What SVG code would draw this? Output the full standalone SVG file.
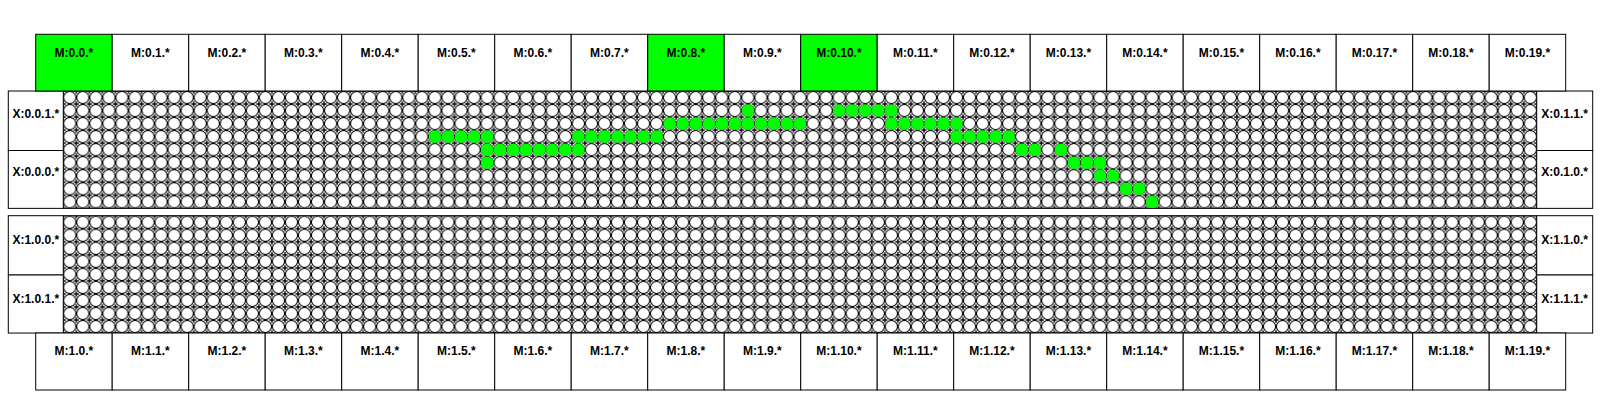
<svg xmlns="http://www.w3.org/2000/svg" width="1600" height="400" viewBox="0 0 1600 400">
<style>
.box{fill:#fff;stroke:#000;stroke-width:1}
.on{fill:#00ff00}
.lbl{font-family:"Liberation Sans",Arial,Helvetica,sans-serif;font-size:12px;font-weight:bold;text-anchor:middle;fill:#000}
.dot{fill:#00ff00;stroke:none}
.edge{fill:none;stroke:#000;stroke-width:1}
</style>
<defs>
<pattern id="cells" patternUnits="userSpaceOnUse" x="0" y="0" width="13.04" height="13.04">
<rect width="13.04" height="13.04" fill="#fff"/>
<path d="M0 0H2.5M0 0V2.5M13.04 0H10.54M13.04 0V2.5M0 13.04H2.5M0 13.04V10.54M13.04 13.04H10.54M13.04 13.04V10.54" stroke="#000" stroke-width="1.4" fill="none"/>
<circle cx="6.52" cy="6.52" r="6.1" fill="#fff" stroke="#000" stroke-width="1"/>
</pattern>
</defs>
<rect width="1600" height="400" fill="#fff"/>

<g id="block0">
<g id="grid0" transform="translate(63.3,91)">
<rect width="1473.4" height="117.36" fill="url(#cells)"/>
<rect class="edge" width="1473.4" height="117.36"/>
</g>
<g id="trace0">
<circle class="dot" cx="747.90" cy="110.56" r="6.3"/>
<circle class="dot" cx="839.18" cy="110.56" r="6.3"/><circle class="dot" cx="852.22" cy="110.56" r="6.3"/><circle class="dot" cx="865.26" cy="110.56" r="6.3"/><circle class="dot" cx="878.30" cy="110.56" r="6.3"/><circle class="dot" cx="891.34" cy="110.56" r="6.3"/>
<circle class="dot" cx="669.66" cy="123.60" r="6.3"/><circle class="dot" cx="682.70" cy="123.60" r="6.3"/><circle class="dot" cx="695.74" cy="123.60" r="6.3"/><circle class="dot" cx="708.78" cy="123.60" r="6.3"/><circle class="dot" cx="721.82" cy="123.60" r="6.3"/><circle class="dot" cx="734.86" cy="123.60" r="6.3"/><circle class="dot" cx="747.90" cy="123.60" r="6.3"/><circle class="dot" cx="760.94" cy="123.60" r="6.3"/><circle class="dot" cx="773.98" cy="123.60" r="6.3"/><circle class="dot" cx="787.02" cy="123.60" r="6.3"/><circle class="dot" cx="800.06" cy="123.60" r="6.3"/>
<circle class="dot" cx="891.34" cy="123.60" r="6.3"/><circle class="dot" cx="904.38" cy="123.60" r="6.3"/><circle class="dot" cx="917.42" cy="123.60" r="6.3"/><circle class="dot" cx="930.46" cy="123.60" r="6.3"/><circle class="dot" cx="943.50" cy="123.60" r="6.3"/><circle class="dot" cx="956.54" cy="123.60" r="6.3"/>
<circle class="dot" cx="434.94" cy="136.64" r="6.3"/><circle class="dot" cx="447.98" cy="136.64" r="6.3"/><circle class="dot" cx="461.02" cy="136.64" r="6.3"/><circle class="dot" cx="474.06" cy="136.64" r="6.3"/><circle class="dot" cx="487.10" cy="136.64" r="6.3"/>
<circle class="dot" cx="578.38" cy="136.64" r="6.3"/><circle class="dot" cx="591.42" cy="136.64" r="6.3"/><circle class="dot" cx="604.46" cy="136.64" r="6.3"/><circle class="dot" cx="617.50" cy="136.64" r="6.3"/><circle class="dot" cx="630.54" cy="136.64" r="6.3"/><circle class="dot" cx="643.58" cy="136.64" r="6.3"/><circle class="dot" cx="656.62" cy="136.64" r="6.3"/>
<circle class="dot" cx="956.54" cy="136.64" r="6.3"/><circle class="dot" cx="969.58" cy="136.64" r="6.3"/><circle class="dot" cx="982.62" cy="136.64" r="6.3"/><circle class="dot" cx="995.66" cy="136.64" r="6.3"/><circle class="dot" cx="1008.70" cy="136.64" r="6.3"/>
<circle class="dot" cx="487.10" cy="149.68" r="6.3"/><circle class="dot" cx="500.14" cy="149.68" r="6.3"/><circle class="dot" cx="513.18" cy="149.68" r="6.3"/><circle class="dot" cx="526.22" cy="149.68" r="6.3"/><circle class="dot" cx="539.26" cy="149.68" r="6.3"/><circle class="dot" cx="552.30" cy="149.68" r="6.3"/><circle class="dot" cx="565.34" cy="149.68" r="6.3"/><circle class="dot" cx="578.38" cy="149.68" r="6.3"/>
<circle class="dot" cx="1021.74" cy="149.68" r="6.3"/><circle class="dot" cx="1034.78" cy="149.68" r="6.3"/><circle class="dot" cx="1060.86" cy="149.68" r="6.3"/>
<circle class="dot" cx="487.10" cy="162.72" r="6.3"/><circle class="dot" cx="1073.90" cy="162.72" r="6.3"/><circle class="dot" cx="1086.94" cy="162.72" r="6.3"/><circle class="dot" cx="1099.98" cy="162.72" r="6.3"/>
<circle class="dot" cx="1099.98" cy="175.76" r="6.3"/><circle class="dot" cx="1113.02" cy="175.76" r="6.3"/>
<circle class="dot" cx="1126.06" cy="188.80" r="6.3"/><circle class="dot" cx="1139.10" cy="188.80" r="6.3"/>
<circle class="dot" cx="1152.14" cy="201.84" r="6.3"/>
</g>
<g id="X-0-0-1"><rect class="box" x="8.3" y="91" width="55" height="59.5"/><text class="lbl" x="35.8" y="117.5">X:0.0.1.*</text></g>
<g id="X-0-0-0"><rect class="box" x="8.3" y="150.5" width="55" height="57.86"/><text class="lbl" x="35.8" y="176">X:0.0.0.*</text></g>
<g id="X-0-1-1"><rect class="box" x="1536.7" y="91" width="56" height="59.5"/><text class="lbl" x="1564.7" y="117.5">X:0.1.1.*</text></g>
<g id="X-0-1-0"><rect class="box" x="1536.7" y="150.5" width="56" height="57.86"/><text class="lbl" x="1564.7" y="176">X:0.1.0.*</text></g>
</g>

<g id="block1">
<g id="grid1" transform="translate(63.3,215.7)">
<rect width="1473.4" height="117.36" fill="url(#cells)"/>
<rect class="edge" width="1473.4" height="117.36"/>
</g>
<g id="X-1-0-0"><rect class="box" x="8.3" y="215.7" width="55" height="59.3"/><text class="lbl" x="35.8" y="244">X:1.0.0.*</text></g>
<g id="X-1-0-1"><rect class="box" x="8.3" y="275" width="55" height="58.06"/><text class="lbl" x="35.8" y="303">X:1.0.1.*</text></g>
<g id="X-1-1-0"><rect class="box" x="1536.7" y="215.7" width="56" height="59.3"/><text class="lbl" x="1564.7" y="244">X:1.1.0.*</text></g>
<g id="X-1-1-1"><rect class="box" x="1536.7" y="275" width="56" height="58.06"/><text class="lbl" x="1564.7" y="303">X:1.1.1.*</text></g>
</g>

<g id="top-row">
<g id="M-0-0"><rect class="box on" x="35.7" y="34.3" width="76.5" height="56.7"/><text class="lbl" x="73.95" y="57.3">M:0.0.*</text></g>
<g id="M-0-1"><rect class="box" x="112.2" y="34.3" width="76.5" height="56.7"/><text class="lbl" x="150.45" y="57.3">M:0.1.*</text></g>
<g id="M-0-2"><rect class="box" x="188.7" y="34.3" width="76.5" height="56.7"/><text class="lbl" x="226.95" y="57.3">M:0.2.*</text></g>
<g id="M-0-3"><rect class="box" x="265.2" y="34.3" width="76.5" height="56.7"/><text class="lbl" x="303.45" y="57.3">M:0.3.*</text></g>
<g id="M-0-4"><rect class="box" x="341.7" y="34.3" width="76.5" height="56.7"/><text class="lbl" x="379.95" y="57.3">M:0.4.*</text></g>
<g id="M-0-5"><rect class="box" x="418.2" y="34.3" width="76.5" height="56.7"/><text class="lbl" x="456.45" y="57.3">M:0.5.*</text></g>
<g id="M-0-6"><rect class="box" x="494.7" y="34.3" width="76.5" height="56.7"/><text class="lbl" x="532.95" y="57.3">M:0.6.*</text></g>
<g id="M-0-7"><rect class="box" x="571.2" y="34.3" width="76.5" height="56.7"/><text class="lbl" x="609.45" y="57.3">M:0.7.*</text></g>
<g id="M-0-8"><rect class="box on" x="647.7" y="34.3" width="76.5" height="56.7"/><text class="lbl" x="685.95" y="57.3">M:0.8.*</text></g>
<g id="M-0-9"><rect class="box" x="724.2" y="34.3" width="76.5" height="56.7"/><text class="lbl" x="762.45" y="57.3">M:0.9.*</text></g>
<g id="M-0-10"><rect class="box on" x="800.7" y="34.3" width="76.5" height="56.7"/><text class="lbl" x="838.95" y="57.3">M:0.10.*</text></g>
<g id="M-0-11"><rect class="box" x="877.2" y="34.3" width="76.5" height="56.7"/><text class="lbl" x="915.45" y="57.3">M:0.11.*</text></g>
<g id="M-0-12"><rect class="box" x="953.7" y="34.3" width="76.5" height="56.7"/><text class="lbl" x="991.95" y="57.3">M:0.12.*</text></g>
<g id="M-0-13"><rect class="box" x="1030.2" y="34.3" width="76.5" height="56.7"/><text class="lbl" x="1068.45" y="57.3">M:0.13.*</text></g>
<g id="M-0-14"><rect class="box" x="1106.7" y="34.3" width="76.5" height="56.7"/><text class="lbl" x="1144.95" y="57.3">M:0.14.*</text></g>
<g id="M-0-15"><rect class="box" x="1183.2" y="34.3" width="76.5" height="56.7"/><text class="lbl" x="1221.45" y="57.3">M:0.15.*</text></g>
<g id="M-0-16"><rect class="box" x="1259.7" y="34.3" width="76.5" height="56.7"/><text class="lbl" x="1297.95" y="57.3">M:0.16.*</text></g>
<g id="M-0-17"><rect class="box" x="1336.2" y="34.3" width="76.5" height="56.7"/><text class="lbl" x="1374.45" y="57.3">M:0.17.*</text></g>
<g id="M-0-18"><rect class="box" x="1412.7" y="34.3" width="76.5" height="56.7"/><text class="lbl" x="1450.95" y="57.3">M:0.18.*</text></g>
<g id="M-0-19"><rect class="box" x="1489.2" y="34.3" width="76.5" height="56.7"/><text class="lbl" x="1527.45" y="57.3">M:0.19.*</text></g>
</g>

<g id="bottom-row">
<g id="M-1-0"><rect class="box" x="35.7" y="333" width="76.5" height="57"/><text class="lbl" x="73.95" y="355">M:1.0.*</text></g>
<g id="M-1-1"><rect class="box" x="112.2" y="333" width="76.5" height="57"/><text class="lbl" x="150.45" y="355">M:1.1.*</text></g>
<g id="M-1-2"><rect class="box" x="188.7" y="333" width="76.5" height="57"/><text class="lbl" x="226.95" y="355">M:1.2.*</text></g>
<g id="M-1-3"><rect class="box" x="265.2" y="333" width="76.5" height="57"/><text class="lbl" x="303.45" y="355">M:1.3.*</text></g>
<g id="M-1-4"><rect class="box" x="341.7" y="333" width="76.5" height="57"/><text class="lbl" x="379.95" y="355">M:1.4.*</text></g>
<g id="M-1-5"><rect class="box" x="418.2" y="333" width="76.5" height="57"/><text class="lbl" x="456.45" y="355">M:1.5.*</text></g>
<g id="M-1-6"><rect class="box" x="494.7" y="333" width="76.5" height="57"/><text class="lbl" x="532.95" y="355">M:1.6.*</text></g>
<g id="M-1-7"><rect class="box" x="571.2" y="333" width="76.5" height="57"/><text class="lbl" x="609.45" y="355">M:1.7.*</text></g>
<g id="M-1-8"><rect class="box" x="647.7" y="333" width="76.5" height="57"/><text class="lbl" x="685.95" y="355">M:1.8.*</text></g>
<g id="M-1-9"><rect class="box" x="724.2" y="333" width="76.5" height="57"/><text class="lbl" x="762.45" y="355">M:1.9.*</text></g>
<g id="M-1-10"><rect class="box" x="800.7" y="333" width="76.5" height="57"/><text class="lbl" x="838.95" y="355">M:1.10.*</text></g>
<g id="M-1-11"><rect class="box" x="877.2" y="333" width="76.5" height="57"/><text class="lbl" x="915.45" y="355">M:1.11.*</text></g>
<g id="M-1-12"><rect class="box" x="953.7" y="333" width="76.5" height="57"/><text class="lbl" x="991.95" y="355">M:1.12.*</text></g>
<g id="M-1-13"><rect class="box" x="1030.2" y="333" width="76.5" height="57"/><text class="lbl" x="1068.45" y="355">M:1.13.*</text></g>
<g id="M-1-14"><rect class="box" x="1106.7" y="333" width="76.5" height="57"/><text class="lbl" x="1144.95" y="355">M:1.14.*</text></g>
<g id="M-1-15"><rect class="box" x="1183.2" y="333" width="76.5" height="57"/><text class="lbl" x="1221.45" y="355">M:1.15.*</text></g>
<g id="M-1-16"><rect class="box" x="1259.7" y="333" width="76.5" height="57"/><text class="lbl" x="1297.95" y="355">M:1.16.*</text></g>
<g id="M-1-17"><rect class="box" x="1336.2" y="333" width="76.5" height="57"/><text class="lbl" x="1374.45" y="355">M:1.17.*</text></g>
<g id="M-1-18"><rect class="box" x="1412.7" y="333" width="76.5" height="57"/><text class="lbl" x="1450.95" y="355">M:1.18.*</text></g>
<g id="M-1-19"><rect class="box" x="1489.2" y="333" width="76.5" height="57"/><text class="lbl" x="1527.45" y="355">M:1.19.*</text></g>
</g>
</svg>
